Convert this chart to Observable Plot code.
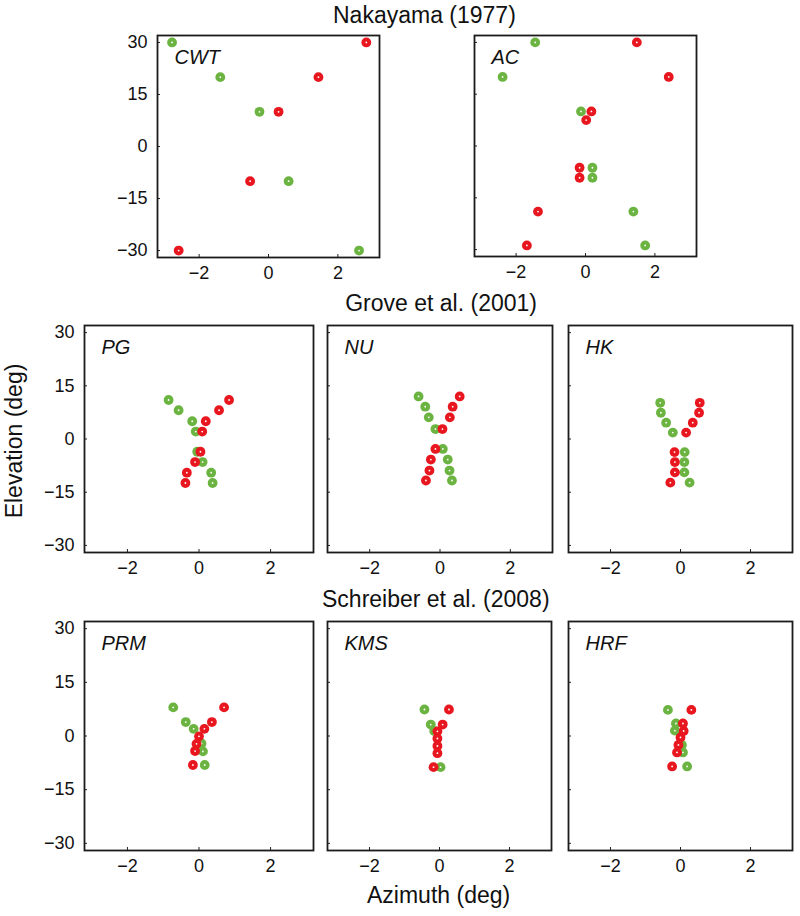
<!DOCTYPE html>
<html><head><meta charset="utf-8">
<script src="https://cdn.jsdelivr.net/npm/d3@7"></script>
<script src="https://cdn.jsdelivr.net/npm/@observablehq/plot@0.6"></script>
<style>
body{margin:0;background:#fff;}
#fig{position:relative;width:800px;height:916px;font-family:"Liberation Sans",Arial,Helvetica,sans-serif;color:#111;overflow:hidden;}
.t{position:absolute;font-size:23px;white-space:nowrap;line-height:1;}
.p{position:absolute;}
</style></head><body><div id="fig"></div>
<script>
// ---- data ----
const groupTitles = ["Nakayama (1977)", "Grove et al. (2001)", "Schreiber et al. (2008)"];
const xLabel = "Azimuth (deg)";
const yLabel = "Elevation (deg)";
const xTicks = [-2, 0, 2];
const yTicks = [-30, -15, 0, 15, 30];

const CWT_green_az = [-2.78, -1.39, -0.26, 0.58, 2.61];
const CWT_green_el = [30, 20, 10, -10, -30];
const CWT_red_az = [2.82, 1.44, 0.29, -0.53, -2.59];
const CWT_red_el = [30, 20, 10, -10, -30];

const AC_green_az = [-1.45, -2.39, -0.13, 0.2, 0.2, 1.38, 1.72];
const AC_green_el = [30, 20, 10, -6.3, -9.2, -19, -28.8];
const AC_red_az = [1.48, 2.40, 0.17, 0.02, -0.17, -0.17, -1.37, -1.69];
const AC_red_el = [30, 20, 10, 7.5, -6.3, -9.2, -19, -28.8];

const PG_green_az = [-0.85, -0.57, -0.19, -0.09, -0.05, 0.10, 0.34, 0.38];
const PG_green_el = [11, 8.1, 5.0, 2.1, -3.6, -6.5, -9.5, -12.4];
const PG_red_az = [0.84, 0.56, 0.19, 0.09, 0.04, -0.11, -0.34, -0.38];
const PG_red_el = [11, 8.1, 5.0, 2.1, -3.6, -6.5, -9.5, -12.4];

const NU_green_az = [-0.61, -0.42, -0.32, -0.13, 0.08, 0.22, 0.27, 0.34];
const NU_green_el = [12, 9.1, 6.1, 2.8, -2.8, -5.8, -8.9, -11.7];
const NU_red_az = [0.56, 0.36, 0.28, 0.07, -0.13, -0.26, -0.30, -0.40];
const NU_red_el = [12, 9.1, 6.1, 2.8, -2.8, -5.8, -8.9, -11.7];

const HK_green_az = [-0.58, -0.56, -0.41, -0.22, 0.12, 0.11, 0.11, 0.26];
const HK_green_el = [10.2, 7.4, 4.6, 1.8, -3.7, -6.5, -9.4, -12.3];
const HK_red_az = [0.55, 0.53, 0.35, 0.16, -0.17, -0.16, -0.16, -0.29];
const HK_red_el = [10.2, 7.4, 4.6, 1.8, -3.7, -6.5, -9.4, -12.3];

const PRM_green_az = [-0.72, -0.37, -0.15, 0.07, 0.11, 0.16];
const PRM_green_el = [8, 3.9, 2.0, -2.1, -4.3, -8.1];
const PRM_red_az = [0.70, 0.36, 0.15, 0.0, -0.07, -0.11, -0.17];
const PRM_red_el = [8, 3.9, 2.0, -0.1, -2.2, -4.2, -8.1];

const KMS_green_az = [-0.43, -0.25, -0.15, 0.03];
const KMS_green_el = [7.4, 3.2, 1.4, -8.7];
const KMS_red_az = [0.27, 0.09, -0.06, -0.06, -0.06, -0.06, -0.17];
const KMS_red_el = [7.4, 3.2, 1.3, -0.7, -2.8, -4.8, -8.7];

const HRF_green_az = [-0.36, -0.13, -0.16, 0.04, 0.07, 0.19];
const HRF_green_el = [7.3, 3.5, 1.5, -2.5, -4.6, -8.5];
const HRF_red_az = [0.31, 0.07, 0.09, 0.0, -0.06, -0.10, -0.24];
const HRF_red_el = [7.3, 3.5, 1.4, -0.4, -2.5, -4.6, -8.5];

// ---- layout & style ----
const GREEN = "#6cb441";
const RED = "#e8161e";
const FONT = "'Liberation Sans', Arial, Helvetica, sans-serif";
const panels = [
  {name: "CWT", g: [CWT_green_az, CWT_green_el], r: [CWT_red_az, CWT_red_el], f: {l:157, t:35, w:222, h:222}, yl: true},
  {name: "AC",  g: [AC_green_az, AC_green_el],   r: [AC_red_az, AC_red_el],   f: {l:474, t:35, w:222, h:221}, yl: false},
  {name: "PG",  g: [PG_green_az, PG_green_el],   r: [PG_red_az, PG_red_el],   f: {l:84,  t:325, w:229, h:227}, yl: true},
  {name: "NU",  g: [NU_green_az, NU_green_el],   r: [NU_red_az, NU_red_el],   f: {l:327, t:325, w:225, h:227}, yl: false},
  {name: "HK",  g: [HK_green_az, HK_green_el],   r: [HK_red_az, HK_red_el],   f: {l:568, t:325, w:224, h:227}, yl: false},
  {name: "PRM", g: [PRM_green_az, PRM_green_el], r: [PRM_red_az, PRM_red_el], f: {l:84,  t:621, w:229, h:229}, yl: true},
  {name: "KMS", g: [KMS_green_az, KMS_green_el], r: [KMS_red_az, KMS_red_el], f: {l:327, t:621, w:224, h:229}, yl: false},
  {name: "HRF", g: [HRF_green_az, HRF_green_el], r: [HRF_red_az, HRF_red_el], f: {l:568, t:621, w:224, h:229}, yl: false}
];

const fig = document.getElementById("fig");
const mL = 50, mR = 4, mT = 4, mB = 34;
const fmt = d => d < 0 ? "\u2212" + Math.abs(d) : String(d);

for (const p of panels) {
  const green = p.g[0].map((az, i) => ({az, el: p.g[1][i]}));
  const red = p.r[0].map((az, i) => ({az, el: p.r[1][i]}));
  const chart = Plot.plot({
    width: p.f.w + mL + mR,
    height: p.f.h + mT + mB,
    marginLeft: mL, marginRight: mR, marginTop: mT, marginBottom: mB,
    x: {domain: [-3.2, 3.2], label: null},
    y: {domain: [-32, 32], label: null},
    style: {fontFamily: FONT, fontSize: "18px", color: "#111", background: "transparent", overflow: "visible"},
    marks: [
      Plot.axisX({ticks: xTicks, tickSize: -3, tickPadding: 12, label: null, stroke: "#222", tickFormat: fmt}),
      Plot.axisY({ticks: yTicks, tickSize: -3, tickPadding: 13, label: null, stroke: "#222",
                  tickFormat: p.yl ? fmt : (() => "")}),
      Plot.frame({stroke: "#1b1b1b", strokeWidth: 1.8}),
      Plot.dot(green, {x: "az", y: "el", r: 4.9, fill: GREEN}),
      Plot.dot(green, {x: "az", y: "el", r: 0.9, fill: "white"}),
      Plot.dot(red, {x: "az", y: "el", r: 4.9, fill: RED}),
      Plot.dot(red, {x: "az", y: "el", r: 0.9, fill: "white"}),
      Plot.text([p.name], {frameAnchor: "top-left", dx: 17, dy: 28, lineAnchor: "bottom", textAnchor: "start",
                           fontStyle: "italic", fontSize: 20, fill: "#111"})
    ]
  });
  chart.classList.add("p");
  chart.style.left = (p.f.l - mL) + "px";
  chart.style.top = (p.f.t - mT) + "px";
  fig.appendChild(chart);
}

function addText(txt, left, top, transform) {
  const d = document.createElement("div");
  d.className = "t";
  d.textContent = txt;
  d.style.left = left + "px";
  d.style.top = top + "px";
  if (transform) d.style.transform = transform;
  fig.appendChild(d);
}
addText(groupTitles[0], 333, 3.5);
addText(groupTitles[1], 537, 292, "translateX(-100%)");
addText(groupTitles[2], 322, 588);
addText(xLabel, 367, 883.5);
addText(yLabel, 14, 441, "translate(-50%,-50%) rotate(-90deg)");
</script>
</body></html>
